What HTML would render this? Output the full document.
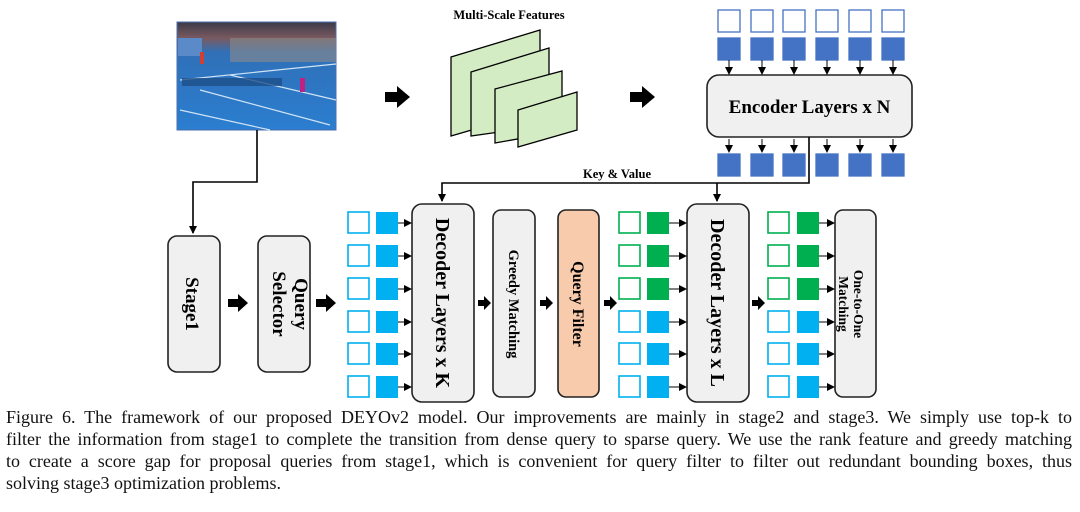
<!DOCTYPE html>
<html><head><meta charset="utf-8"><style>
html,body{margin:0;padding:0;background:#fff;width:1080px;height:512px;overflow:hidden}
svg{position:absolute;left:0;top:0}
.cap{position:absolute;left:6px;width:1066px;font-family:"Liberation Serif",serif;font-size:18px;color:#111;white-space:nowrap}
.j{text-align:justify;text-align-last:justify}
</style></head><body>
<svg width="1080" height="410" viewBox="0 0 1080 410" font-family="Liberation Serif,serif" font-weight="bold">
<defs>
<marker id="a" markerWidth="8" markerHeight="8" refX="7" refY="4" orient="auto" markerUnits="userSpaceOnUse"><path d="M0,0 L8,4 L0,8z" fill="#000"/></marker>
<linearGradient id="ct" x1="0" y1="0" x2="0" y2="1"><stop offset="0" stop-color="#3a3a48"/><stop offset="0.15" stop-color="#7a5a60"/><stop offset="0.28" stop-color="#3070b8"/><stop offset="1" stop-color="#2b7ed0"/></linearGradient>
<g id="bigArr"><path d="M0,-5 L12,-5 L12,-11 L25,0 L12,11 L12,5 L0,5z" fill="#000"/></g>
<g id="midArr"><path d="M0,-4 L10,-4 L10,-9 L20,0 L10,9 L10,4 L0,4z" fill="#000"/></g>
<g id="smArr"><path d="M0,-3 L6,-3 L6,-7 L13,0 L6,7 L6,3 L0,3z" fill="#000"/></g>
</defs>
<!-- image -->
<rect x="177" y="22" width="159" height="108" fill="url(#ct)" stroke="#4a6fb0"/>
<rect x="230" y="38" width="106" height="24" fill="#8a8a8a" opacity=".6"/>
<rect x="178" y="38" width="24" height="18" fill="#5a8ac8"/>
<path d="M180,80 L336,64 M200,90 L330,125 M180,110 L270,130 M230,75 L336,100" stroke="#cfe3f5" stroke-width="1.2" fill="none"/>
<rect x="182" y="78" width="100" height="8" fill="#1e4f8a" opacity=".8"/>
<rect x="300" y="78" width="5" height="14" fill="#c02080"/>
<rect x="200" y="52" width="4" height="12" fill="#d04030"/>
<!-- image connector -->
<polyline points="257,130 257,182 193,182 193,233" fill="none" stroke="#000" stroke-width="1.6" marker-end="url(#a)"/>
<!-- multi-scale -->
<text x="509" y="19" font-size="12.5" text-anchor="middle">Multi-Scale Features</text>
<g fill="#d3ecc4" stroke="#000" stroke-width="1.3">
<polygon points="451,57 540,30 540,110 451,136"/>
<polygon points="471,72 549,48 549,125 471,136"/>
<polygon points="495,89 562,71 562,131 495,143"/>
<polygon points="518,110 577,92 577,130 518,147"/>
</g>
<use href="#bigArr" x="385" y="97"/>
<use href="#bigArr" x="630" y="97"/>
<!-- encoder -->
<rect x="707" y="75" width="205" height="62" rx="12" fill="#f0f0f0" stroke="#222" stroke-width="1.6"/>
<text x="809.5" y="113" font-size="19" text-anchor="middle">Encoder Layers x N</text>
<g stroke="#4472c4" stroke-width="1.3">
<rect x="718" y="10" width="22" height="22" fill="#fff"/><rect x="751" y="10" width="22" height="22" fill="#fff"/><rect x="783" y="10" width="22" height="22" fill="#fff"/><rect x="816" y="10" width="22" height="22" fill="#fff"/><rect x="849" y="10" width="22" height="22" fill="#fff"/><rect x="882" y="10" width="22" height="22" fill="#fff"/>
<rect x="718" y="38" width="22" height="22" fill="#4472c4"/><rect x="751" y="38" width="22" height="22" fill="#4472c4"/><rect x="783" y="38" width="22" height="22" fill="#4472c4"/><rect x="816" y="38" width="22" height="22" fill="#4472c4"/><rect x="849" y="38" width="22" height="22" fill="#4472c4"/><rect x="882" y="38" width="22" height="22" fill="#4472c4"/>
<rect x="718" y="154" width="22" height="22" fill="#4472c4"/><rect x="751" y="154" width="22" height="22" fill="#4472c4"/><rect x="783" y="154" width="22" height="22" fill="#4472c4"/><rect x="816" y="154" width="22" height="22" fill="#4472c4"/><rect x="849" y="154" width="22" height="22" fill="#4472c4"/><rect x="882" y="154" width="22" height="22" fill="#4472c4"/>
</g>
<g stroke="#000" stroke-width="1" marker-end="url(#a)">
<line x1="729" y1="60" x2="729" y2="74"/><line x1="762" y1="60" x2="762" y2="74"/><line x1="794" y1="60" x2="794" y2="74"/><line x1="827" y1="60" x2="827" y2="74"/><line x1="860" y1="60" x2="860" y2="74"/><line x1="893" y1="60" x2="893" y2="74"/>
<line x1="729" y1="139" x2="729" y2="152"/><line x1="762" y1="139" x2="762" y2="152"/><line x1="794" y1="139" x2="794" y2="152"/><line x1="827" y1="139" x2="827" y2="152"/><line x1="860" y1="139" x2="860" y2="152"/><line x1="893" y1="139" x2="893" y2="152"/>
</g>
<!-- key & value -->
<text x="617" y="178" font-size="12.5" text-anchor="middle">Key &amp; Value</text>
<polyline points="809,137 809,183 442,183 442,201" fill="none" stroke="#000" stroke-width="1.6" marker-end="url(#a)"/>
<line x1="717" y1="183" x2="717" y2="201" stroke="#000" stroke-width="1.6" marker-end="url(#a)"/>
<!-- stage1 / query selector -->
<rect x="168" y="236" width="52" height="136" rx="9" fill="#f0f0f0" stroke="#222" stroke-width="1.6"/>
<text transform="translate(186,304) rotate(90)" font-size="19" text-anchor="middle">Stage1</text>
<rect x="258" y="236" width="52" height="136" rx="9" fill="#f0f0f0" stroke="#222" stroke-width="1.6"/>
<text transform="translate(285,304) rotate(90)" font-size="19" text-anchor="middle"><tspan x="0" dy="-10">Query</tspan><tspan x="0" dy="22">Selector</tspan></text>
<use href="#midArr" x="228" y="303"/>
<use href="#midArr" x="316" y="303"/>
<!-- decoder K -->
<rect x="412" y="204" width="62" height="198" rx="10" fill="#f0f0f0" stroke="#222" stroke-width="1.6"/>
<text transform="translate(436,303) rotate(90)" font-size="20" text-anchor="middle">Decoder Layers x K</text>
<rect x="493" y="210" width="42" height="187" rx="8" fill="#f0f0f0" stroke="#222" stroke-width="1.6"/>
<text transform="translate(509,304) rotate(90)" font-size="14.5" text-anchor="middle">Greedy Matching</text>
<rect x="558" y="210" width="41" height="187" rx="8" fill="#f8cbad" stroke="#222" stroke-width="1.6"/>
<text transform="translate(573,304) rotate(90)" font-size="16" text-anchor="middle">Query Filter</text>
<use href="#smArr" x="478" y="303"/>
<use href="#smArr" x="540" y="303"/>
<use href="#smArr" x="604" y="303"/>
<!-- decoder L -->
<rect x="687" y="204" width="62" height="198" rx="10" fill="#f0f0f0" stroke="#222" stroke-width="1.6"/>
<text transform="translate(711,303) rotate(90)" font-size="20" text-anchor="middle">Decoder Layers x L</text>
<use href="#smArr" x="752" y="303"/>
<rect x="835" y="210" width="41" height="187" rx="8" fill="#f0f0f0" stroke="#222" stroke-width="1.6"/>
<text transform="translate(850,304) rotate(90)" font-size="13.5" text-anchor="middle"><tspan x="0" dy="-4">One-to-One</tspan><tspan x="0" dy="15">Matching</tspan></text>
<!-- query squares -->
<g stroke-width="1.6">
<g stroke="#00b0f0">
<rect x="348" y="212" width="21" height="21" fill="#fff"/><rect x="348" y="245" width="21" height="21" fill="#fff"/><rect x="348" y="278" width="21" height="21" fill="#fff"/><rect x="348" y="311" width="21" height="21" fill="#fff"/><rect x="348" y="343" width="21" height="21" fill="#fff"/><rect x="348" y="376" width="21" height="21" fill="#fff"/>
</g>
<g fill="#00b0f0">
<rect x="376" y="212" width="22" height="22"/><rect x="376" y="245" width="22" height="22"/><rect x="376" y="278" width="22" height="22"/><rect x="376" y="311" width="22" height="22"/><rect x="376" y="343" width="22" height="22"/><rect x="376" y="376" width="22" height="22"/>
</g>
<g stroke="#00b050" fill="#fff">
<rect x="619" y="212" width="21" height="21"/><rect x="619" y="245" width="21" height="21"/><rect x="619" y="278" width="21" height="21"/>
<rect x="768" y="212" width="21" height="21"/><rect x="768" y="245" width="21" height="21"/><rect x="768" y="278" width="21" height="21"/>
</g>
<g stroke="#00b0f0" fill="#fff">
<rect x="619" y="311" width="21" height="21"/><rect x="619" y="343" width="21" height="21"/><rect x="619" y="376" width="21" height="21"/>
<rect x="768" y="311" width="21" height="21"/><rect x="768" y="343" width="21" height="21"/><rect x="768" y="376" width="21" height="21"/>
</g>
<g fill="#00b050">
<rect x="647" y="212" width="22" height="22"/><rect x="647" y="245" width="22" height="22"/><rect x="647" y="278" width="22" height="22"/>
<rect x="797" y="212" width="22" height="22"/><rect x="797" y="245" width="22" height="22"/><rect x="797" y="278" width="22" height="22"/>
</g>
<g fill="#00b0f0">
<rect x="647" y="311" width="22" height="22"/><rect x="647" y="343" width="22" height="22"/><rect x="647" y="376" width="22" height="22"/>
<rect x="797" y="311" width="22" height="22"/><rect x="797" y="343" width="22" height="22"/><rect x="797" y="376" width="22" height="22"/>
</g>
</g>
<g stroke="#000" stroke-width="1" marker-end="url(#a)">
<line x1="398" y1="223" x2="411" y2="223"/><line x1="398" y1="256" x2="411" y2="256"/><line x1="398" y1="289" x2="411" y2="289"/><line x1="398" y1="322" x2="411" y2="322"/><line x1="398" y1="354" x2="411" y2="354"/><line x1="398" y1="387" x2="411" y2="387"/>
<line x1="669" y1="223" x2="686" y2="223"/><line x1="669" y1="256" x2="686" y2="256"/><line x1="669" y1="289" x2="686" y2="289"/><line x1="669" y1="322" x2="686" y2="322"/><line x1="669" y1="354" x2="686" y2="354"/><line x1="669" y1="387" x2="686" y2="387"/>
<line x1="819" y1="223" x2="834" y2="223"/><line x1="819" y1="256" x2="834" y2="256"/><line x1="819" y1="289" x2="834" y2="289"/><line x1="819" y1="322" x2="834" y2="322"/><line x1="819" y1="354" x2="834" y2="354"/><line x1="819" y1="387" x2="834" y2="387"/>
</g>
</svg>
<div class="cap j" style="top:407px">Figure 6. The framework of our proposed DEYOv2 model. Our improvements are mainly in stage2 and stage3. We simply use top-k to</div>
<div class="cap j" style="top:429px">filter the information from stage1 to complete the transition from dense query to sparse query. We use the rank feature and greedy matching</div>
<div class="cap j" style="top:451px">to create a score gap for proposal queries from stage1, which is convenient for query filter to filter out redundant bounding boxes, thus</div>
<div class="cap" style="top:473px">solving stage3 optimization problems.</div>
</body></html>
